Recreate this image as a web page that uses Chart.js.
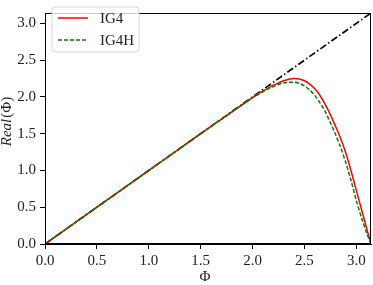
<!DOCTYPE html>
<html>
<head>
<meta charset="utf-8">
<script src="https://cdn.jsdelivr.net/npm/chart.js@4/dist/chart.umd.min.js"></script>
<style>
html,body{margin:0;padding:0;background:#fff;}
#c{display:block;}
</style>
</head>
<body>
<canvas id="c" width="373" height="285"></canvas>
<script>
const xs    = [0, 0.5, 1.0, 1.5, 2.0, 2.05, 2.1, 2.15, 2.2, 2.25, 2.3, 2.35, 2.4, 2.45, 2.5, 2.55, 2.6, 2.65, 2.7, 2.75, 2.8, 2.85, 2.9, 2.95, 3.0, 3.05, 3.1, 3.1416];
const ig4   = [0, 0.5, 1.0, 1.5, 1.99, 2.04, 2.08, 2.12, 2.16, 2.19, 2.22, 2.24, 2.25, 2.245, 2.22, 2.175, 2.11, 2.02, 1.90, 1.76, 1.60, 1.43, 1.23, 0.99, 0.73, 0.47, 0.21, 0];
const ig4h  = [0, 0.5, 1.0, 1.5, 1.99, 2.03, 2.07, 2.11, 2.14, 2.17, 2.19, 2.20, 2.20, 2.185, 2.15, 2.095, 2.02, 1.92, 1.80, 1.65, 1.49, 1.31, 1.10, 0.86, 0.59, 0.36, 0.15, 0];
const diagX = [0, 3.1416];
const diagY = [0, 3.1416];
const xTicks = [0, 0.5, 1.0, 1.5, 2.0, 2.5, 3.0];
const yTicks = [0, 0.5, 1.0, 1.5, 2.0, 2.5, 3.0];
const seriesNames = ['IG4', 'IG4H'];
const xTitle = 'Φ';
const yTitleItalic = 'Real';
const yTitleRest = '(Φ)';

const FONT = '"Liberation Serif", "DejaVu Serif", serif';
const pts = (a, b) => a.map((v, i) => ({x: v, y: b[i]}));

const framePlugin = {
  id: 'frame',
  afterDraw(chart) {
    const {ctx, chartArea: a} = chart;
    ctx.save();
    ctx.strokeStyle = '#000';
    ctx.lineWidth = 1;
    ctx.strokeRect(a.left + 0.5, a.top + 0.5, a.right - a.left - 1, a.bottom - a.top - 1);
    // legend
    const lx = 52, ly = 7, lw = 87, lh = 45, r = 3;
    ctx.beginPath();
    ctx.moveTo(lx + r, ly);
    ctx.arcTo(lx + lw, ly, lx + lw, ly + lh, r);
    ctx.arcTo(lx + lw, ly + lh, lx, ly + lh, r);
    ctx.arcTo(lx, ly + lh, lx, ly, r);
    ctx.arcTo(lx, ly, lx + lw, ly, r);
    ctx.closePath();
    ctx.fillStyle = 'rgba(255,255,255,0.8)';
    ctx.fill();
    ctx.strokeStyle = '#d6d6d6';
    ctx.lineWidth = 1;
    ctx.stroke();
    const rows = [
      {y: 18, color: '#ff0000', dash: [], name: seriesNames[0]},
      {y: 40, color: '#008000', dash: [4, 2], name: seriesNames[1]}
    ];
    rows.forEach(rw => {
      ctx.beginPath();
      ctx.setLineDash(rw.dash);
      ctx.strokeStyle = rw.color;
      ctx.lineWidth = 1.5;
      ctx.moveTo(58, rw.y);
      ctx.lineTo(88, rw.y);
      ctx.stroke();
      ctx.setLineDash([]);
      ctx.fillStyle = '#222';
      ctx.font = '15px ' + FONT;
      ctx.textBaseline = 'middle';
      ctx.textAlign = 'left';
      ctx.fillText(rw.name, 100, rw.y + 1);
    });
    // y title
    ctx.save();
    ctx.translate(7, 122);
    ctx.rotate(-Math.PI / 2);
    ctx.fillStyle = '#222';
    ctx.textBaseline = 'middle';
    ctx.font = 'italic 15px ' + FONT;
    const w1 = ctx.measureText(yTitleItalic).width;
    ctx.font = '15px ' + FONT;
    const w2 = ctx.measureText(yTitleRest).width;
    let sx = -(w1 + w2) / 2;
    ctx.textAlign = 'left';
    ctx.font = 'italic 15px ' + FONT;
    ctx.fillText(yTitleItalic, sx, 0);
    ctx.font = '15px ' + FONT;
    ctx.fillText(yTitleRest, sx + w1 + 1, 0);
    ctx.restore();
    // x title
    ctx.fillStyle = '#222';
    ctx.font = '15px ' + FONT;
    ctx.textAlign = 'center';
    ctx.textBaseline = 'middle';
    ctx.fillText(xTitle, 205, 277);
    ctx.restore();
  }
};

new Chart(document.getElementById('c'), {
  type: 'scatter',
  data: {
    datasets: [
      {label: 'diag', data: pts(diagX, diagY), showLine: true, borderColor: '#000', borderWidth: 1.7,
       borderDash: [7, 2.5, 1.5, 2.5], pointRadius: 0, fill: false, order: 3},
      {label: seriesNames[0], data: pts(xs, ig4), showLine: true, borderColor: '#ff0000', borderWidth: 1.5,
       pointRadius: 0, fill: false, tension: 0.3, order: 2},
      {label: seriesNames[1], data: pts(xs, ig4h), showLine: true, borderColor: '#008000', borderWidth: 1.5,
       borderDash: [4, 2], pointRadius: 0, fill: false, tension: 0.3, order: 1}
    ]
  },
  options: {
    responsive: false,
    animation: false,
    devicePixelRatio: 1,
    layout: {padding: {top: 1, right: 2, left: 0, bottom: 0}},
    plugins: {legend: {display: false}, tooltip: {enabled: false}},
    scales: {
      x: {
        type: 'linear', min: 0, max: Math.PI,
        afterBuildTicks: s => { s.ticks = xTicks.map(v => ({value: v})); },
        afterFit: s => { s.height = 41; },
        grid: {drawOnChartArea: false, drawTicks: true, tickLength: 5, color: '#000'},
        border: {display: true, color: '#000', width: 1},
        ticks: {color: '#222', font: {family: FONT, size: 15}, padding: 3, maxRotation: 0,
                callback: v => v.toFixed(1)}
      },
      y: {
        type: 'linear', min: 0, max: Math.PI,
        afterBuildTicks: s => { s.ticks = yTicks.map(v => ({value: v})); },
        afterFit: s => { s.width = 45; },
        grid: {drawOnChartArea: false, drawTicks: true, tickLength: 5, color: '#000'},
        border: {display: true, color: '#000', width: 1},
        ticks: {color: '#222', font: {family: FONT, size: 15}, padding: 4,
                callback: v => v.toFixed(1)}
      }
    }
  },
  plugins: [framePlugin]
});
</script>
</body>
</html>
